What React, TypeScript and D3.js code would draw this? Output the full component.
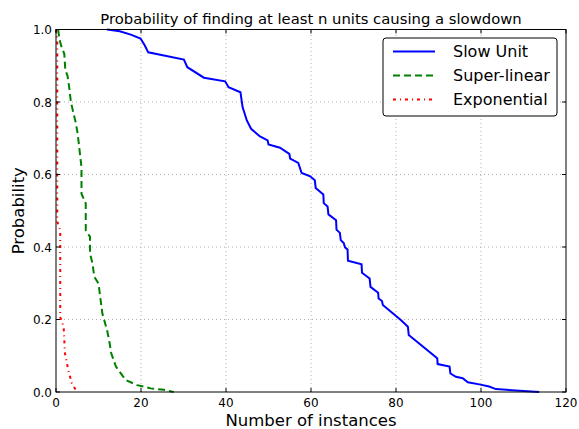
import React, { useEffect, useRef } from 'react';
import * as d3 from 'd3';

interface Pt {
  n: number;
  p: number;
}

// values
const slowN = [12, 15, 17.6, 19.9, 20.9, 21.7, 30.1, 30.9, 34.8, 39.8, 40.6, 43.4, 43.9, 44.9, 45.9, 48.0, 49.8, 50.0, 52.7, 54.9, 55.1, 57.0, 57.8, 59.8, 60.9, 61.1, 62.9, 63.0, 63.9, 64.1, 65.9, 66.0, 66.8, 67.0, 67.7, 68.0, 68.6, 68.7, 71.9, 72.0, 73.8, 74.0, 75.8, 75.9, 76.7, 76.9, 81.2, 82.8, 83.0, 89.7, 89.8, 92.6, 92.8, 94.1, 95.7, 96.9, 99.6, 101.9, 103.5, 113.7];
const slowP = [1.0, 0.995, 0.986, 0.975, 0.956, 0.937, 0.917, 0.896, 0.867, 0.857, 0.841, 0.827, 0.786, 0.749, 0.726, 0.705, 0.694, 0.683, 0.674, 0.657, 0.644, 0.632, 0.604, 0.595, 0.584, 0.563, 0.545, 0.521, 0.512, 0.49, 0.474, 0.448, 0.439, 0.419, 0.411, 0.399, 0.393, 0.362, 0.352, 0.329, 0.313, 0.29, 0.274, 0.258, 0.251, 0.24, 0.198, 0.18, 0.157, 0.093, 0.077, 0.07, 0.051, 0.042, 0.038, 0.027, 0.021, 0.015, 0.008, 0.0];

const superN = [0.5, 0.8, 1.2, 1.95, 2.2, 2.7, 3.1, 3.5, 4.7, 5.1, 6.0, 6.0, 7.0, 7.0, 8.0, 8.0, 8.6, 9.0, 10.0, 10.4, 10.9, 12.0, 12.5, 13.0, 14.1, 16.4, 19.1, 22.3, 25.4, 27.7];
const superP = [1.0, 0.974, 0.956, 0.933, 0.887, 0.873, 0.841, 0.8, 0.74, 0.712, 0.62, 0.547, 0.52, 0.446, 0.428, 0.382, 0.354, 0.318, 0.299, 0.263, 0.217, 0.171, 0.143, 0.107, 0.07, 0.033, 0.019, 0.01, 0.006, 0.0];

const expN = [0.0, 0.3, 0.3, 1.0, 1.0, 1.8, 2.1, 2.9, 3.7, 4.9];
const expP = [1.0, 0.97, 0.47, 0.446, 0.207, 0.18, 0.107, 0.06, 0.025, 0.0];

const xTicks = [0, 20, 40, 60, 80, 100, 120];
const yTicks = [0.0, 0.2, 0.4, 0.6, 0.8, 1.0];

const seriesNames = ['Slow Unit', 'Super-linear', 'Exponential'];
const seriesColors = ['#0000ff', '#008000', '#ff0000'];
const seriesDash = ['none', '7,4', '3,4,1,4'];

const W = 579;
const H = 429;
const marginLeft = 56;
const marginRight = 13;
const marginTop = 29.5;
const marginBottom = 37;

const App: React.FC = () => {
  const svgRef = useRef<SVGSVGElement | null>(null);

  useEffect(() => {
    const svg = d3.select(svgRef.current);
    svg.selectAll('*').remove();
    const font = 'DejaVu Sans, sans-serif';

    const x = d3.scaleLinear().domain([0, 120]).range([marginLeft, W - marginRight]);
    const y = d3.scaleLinear().domain([0, 1]).range([H - marginBottom, marginTop]);

    svg.append('rect').attr('width', W).attr('height', H).attr('fill', '#fff');

    // grid
    const grid = svg.append('g').attr('stroke', '#b0b0b0').attr('stroke-dasharray', '1,3').attr('stroke-width', 1);
    xTicks.slice(1, -1).forEach(t => {
      grid.append('line').attr('x1', x(t)).attr('x2', x(t)).attr('y1', y(0)).attr('y2', y(1));
    });
    yTicks.slice(1, -1).forEach(t => {
      grid.append('line').attr('x1', x(0)).attr('x2', x(120)).attr('y1', y(t)).attr('y2', y(t));
    });

    const series: Pt[][] = [
      slowN.map((n, i) => ({ n, p: slowP[i] })),
      superN.map((n, i) => ({ n, p: superP[i] })),
      expN.map((n, i) => ({ n, p: expP[i] })),
    ];

    const line = d3.line<Pt>().x(d => x(d.n)).y(d => y(d.p));

    series.forEach((s, i) => {
      svg.append('path')
        .datum(s)
        .attr('d', line)
        .attr('fill', 'none')
        .attr('stroke', seriesColors[i])
        .attr('stroke-width', 2)
        .attr('stroke-dasharray', seriesDash[i]);
    });

    // frame
    svg.append('rect')
      .attr('x', x(0)).attr('y', y(1))
      .attr('width', x(120) - x(0)).attr('height', y(0) - y(1))
      .attr('fill', 'none').attr('stroke', '#000').attr('stroke-width', 1);

    // ticks inward on all sides
    const ticks = svg.append('g').attr('stroke', '#000').attr('stroke-width', 1);
    xTicks.forEach(t => {
      ticks.append('line').attr('x1', x(t)).attr('x2', x(t)).attr('y1', y(0)).attr('y2', y(0) - 4);
      ticks.append('line').attr('x1', x(t)).attr('x2', x(t)).attr('y1', y(1)).attr('y2', y(1) + 4);
    });
    yTicks.forEach(t => {
      ticks.append('line').attr('x1', x(0)).attr('x2', x(0) + 4).attr('y1', y(t)).attr('y2', y(t));
      ticks.append('line').attr('x1', x(120)).attr('x2', x(120) - 4).attr('y1', y(t)).attr('y2', y(t));
    });

    svg.append('g')
      .selectAll('text')
      .data(xTicks)
      .join('text')
      .attr('x', d => x(d))
      .attr('y', y(0) + 14.5)
      .attr('text-anchor', 'middle')
      .attr('font-family', font)
      .attr('font-size', 12)
      .text(d => String(d));

    svg.append('g')
      .selectAll('text')
      .data(yTicks)
      .join('text')
      .attr('x', x(0) - 4)
      .attr('y', d => y(d) + 4.5)
      .attr('text-anchor', 'end')
      .attr('font-family', font)
      .attr('font-size', 12)
      .text(d => d3.format('.1f')(d));

    // title + axis labels
    svg.append('text')
      .attr('x', (x(0) + x(120)) / 2)
      .attr('y', 24)
      .attr('text-anchor', 'middle')
      .attr('font-family', font)
      .attr('font-size', 14.8)
      .text('Probability of finding at least n units causing a slowdown');

    svg.append('text')
      .attr('x', (x(0) + x(120)) / 2)
      .attr('y', 426)
      .attr('text-anchor', 'middle')
      .attr('font-family', font)
      .attr('font-size', 16.5)
      .text('Number of instances');

    svg.append('text')
      .attr('transform', `translate(24,${(y(0) + y(1)) / 2}) rotate(-90)`)
      .attr('text-anchor', 'middle')
      .attr('font-family', font)
      .attr('font-size', 16.5)
      .text('Probability');

    // legend
    const lg = svg.append('g').attr('transform', 'translate(383,38)');
    lg.append('rect')
      .attr('width', 174).attr('height', 78).attr('rx', 3)
      .attr('fill', '#fff').attr('stroke', '#000').attr('stroke-width', 1);
    seriesNames.forEach((name, i) => {
      const cy = 13.5 + i * 24;
      lg.append('line')
        .attr('x1', 10).attr('x2', 52).attr('y1', cy).attr('y2', cy)
        .attr('stroke', seriesColors[i]).attr('stroke-width', 2)
        .attr('stroke-dasharray', seriesDash[i]);
      lg.append('text')
        .attr('x', 70).attr('y', cy + 5.5)
        .attr('font-family', font)
        .attr('font-size', 16)
        .text(name);
    });
  }, []);

  return (
    <svg
      ref={svgRef}
      width={W}
      height={H}
      style={{ display: 'block', position: 'fixed', left: 0, top: 0 }}
    />
  );
};

export default App;
